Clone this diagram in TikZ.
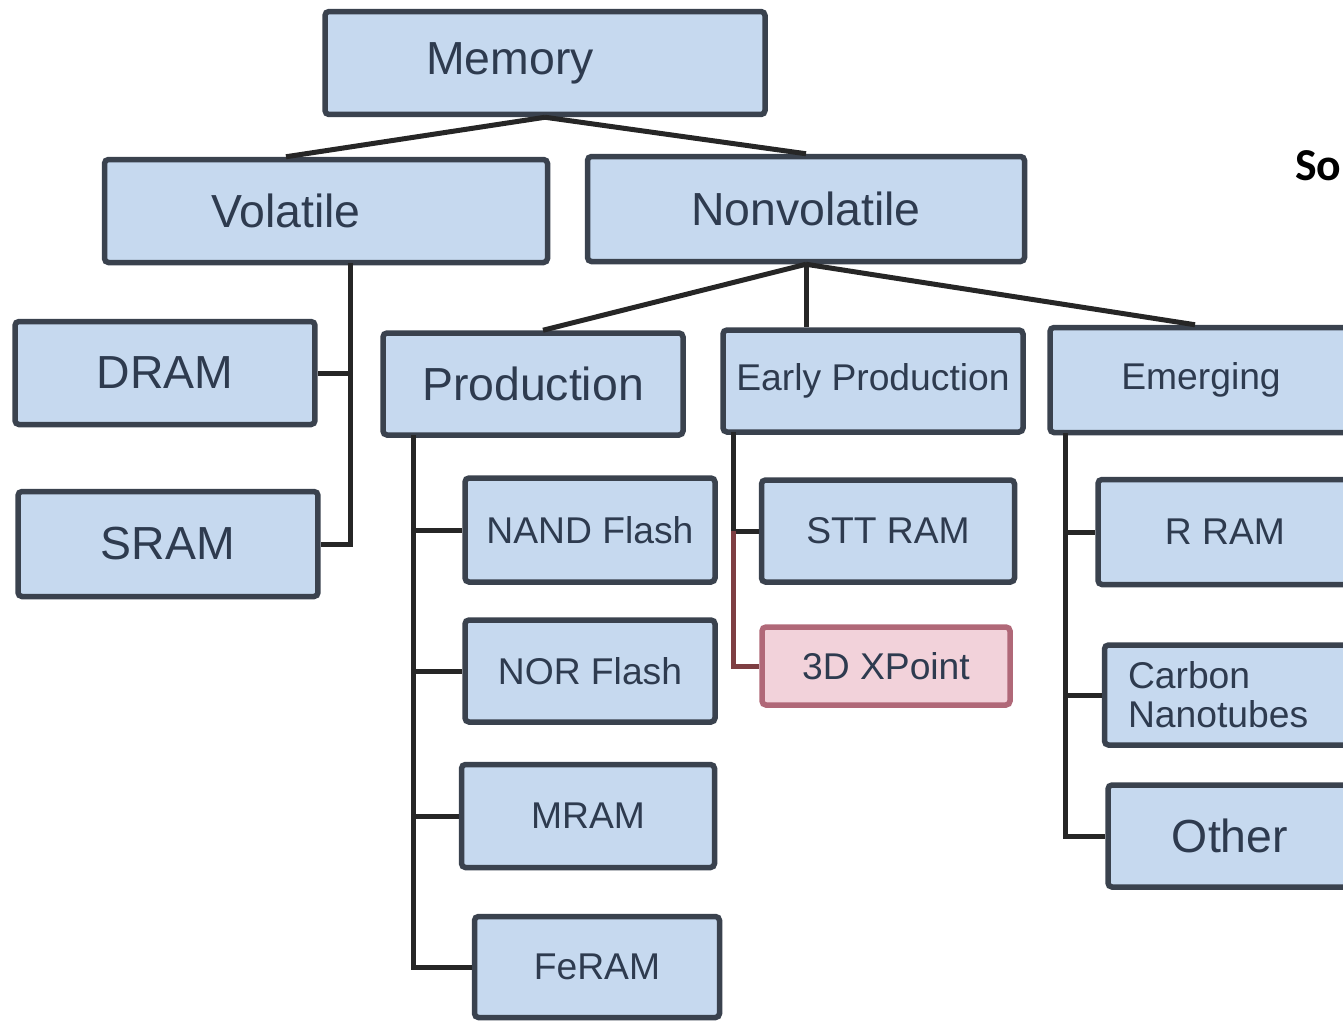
\documentclass[tikz,border=0pt]{standalone}
\usepackage{fontspec}
\setmainfont{Liberation Sans}
\newfontfamily\srcfont{Carlito}
\definecolor{boxfill}{HTML}{C6D9EF}
\definecolor{boxline}{HTML}{3A424E}
\definecolor{boxtext}{HTML}{2E3B4F}
\definecolor{pinkfill}{HTML}{F2D2DA}
\definecolor{pinkline}{HTML}{B06878}
\definecolor{redlink}{HTML}{7E3E42}
\begin{document}
\begin{tikzpicture}[x=0.1mm,y=-0.1mm,
    membox/.style={draw=boxline, line width=0.55mm, fill=boxfill, text=boxtext,
        inner sep=0pt, rounded corners=0.4mm},
    pinkbox/.style={membox, draw=pinkline, fill=pinkfill},
    leftshift/.style={execute at begin node={\hspace*{-#1}}},
    bigtxt/.style={font=\fontsize{13.2}{15}\selectfont},
    smalltxt/.style={font=\fontsize{10.6}{11.2}\selectfont},
    link/.style={draw=black!85, line width=0.5mm}]
        \useasboundingbox (0,0) rectangle (1343,1021);
        \clip (0,0) rectangle (1343,1021);

        % Top levels
        \node[membox, bigtxt, leftshift=7mm, minimum width=44mm, minimum height=10.3mm] (mem) at (545,63) {Memory};
        \node[membox, bigtxt, leftshift=8mm, minimum width=44.3mm, minimum height=10.3mm] (vol) at (326,211) {Volatile};
        \node[membox, bigtxt, minimum width=43.7mm, minimum height=10.5mm] (nonvol) at (806,209) {Nonvolatile};

        % Volatile branch
        \node[membox, bigtxt, minimum width=30mm, minimum height=10.3mm] (dram) at (165,373) {DRAM};
        \node[membox, bigtxt, minimum width=30mm, minimum height=10.5mm] (sram) at (168,544) {SRAM};

        % Nonvolatile groups
        \node[membox, bigtxt, minimum width=30mm, minimum height=10.2mm] (prod) at (533,384) {Production};
        \node[membox, smalltxt, minimum width=30mm, minimum height=10.2mm] (early) at (873,381) {Early Production};
        \node[membox, smalltxt, minimum width=30.2mm, minimum height=10.5mm] (emerg) at (1201,380) {Emerging};

        % Production
        \node[membox, smalltxt, minimum width=25mm, minimum height=10.4mm] (nand) at (590,530) {NAND Flash};
        \node[membox, smalltxt, minimum width=25mm, minimum height=10.2mm] (nor) at (590,671) {NOR Flash};
        \node[membox, smalltxt, minimum width=25.3mm, minimum height=10.3mm] (mram) at (588,816) {MRAM};
        \node[membox, smalltxt, minimum width=24.5mm, minimum height=10.1mm] (feram) at (597,967) {FeRAM};

        % Early production
        \node[membox, smalltxt, minimum width=25.3mm, minimum height=10.2mm] (stt) at (888,531) {STT RAM};
        \node[pinkbox, smalltxt, minimum width=24.8mm, minimum height=7.8mm] (xpoint) at (886,666) {3D XPoint};

        % Emerging
        \node[membox, smalltxt, minimum width=25.4mm, minimum height=10.5mm] (rram) at (1225,532) {R RAM};
        \node[membox, smalltxt, minimum width=24.7mm, minimum height=10mm,
            text width=20mm, align=left] (carbon) at (1228,695) {Carbon\\Nanotubes};
        \node[membox, bigtxt, minimum width=24.4mm, minimum height=10.2mm] (other) at (1230,836) {Other};

        \node[anchor=base east, inner sep=0pt, font=\srcfont\bfseries\fontsize{13}{15}\selectfont] (src) at (1342,180) {So};

        % Tree links
        \draw[link] (mem.south) -- ([xshift=-4mm]vol.north);
        \draw[link] (mem.south) -- (nonvol.north);
        \draw[link] (nonvol.south) -- ([xshift=1mm]prod.north);
        \draw[link] (nonvol.south) -- (nonvol.south |- early.north);
        \draw[link] (nonvol.south) -- ([xshift=-0.6mm]emerg.north);

        % Side buses
        \coordinate (vb) at (350,263);
        \draw[link] (vb) |- (sram.east);
        \draw[link] (vb |- dram.east) -- (dram.east);

        \coordinate (pb) at (413,435);
        \draw[link] (pb) |- (feram.west);
        \foreach \n in {nand,nor,mram}
            \draw[link] (pb |- \n.west) -- (\n.west);

        \coordinate (eb) at (733,432);
        \draw[link] (eb) |- (stt.west);
        \draw[link, draw=redlink] (eb |- stt.west) |- (xpoint.west);

        \coordinate (gb) at (1065,433);
        \draw[link] (gb) |- (other.west);
        \foreach \n in {rram,carbon}
            \draw[link] (gb |- \n.west) -- (\n.west);
\end{tikzpicture}
\end{document}
